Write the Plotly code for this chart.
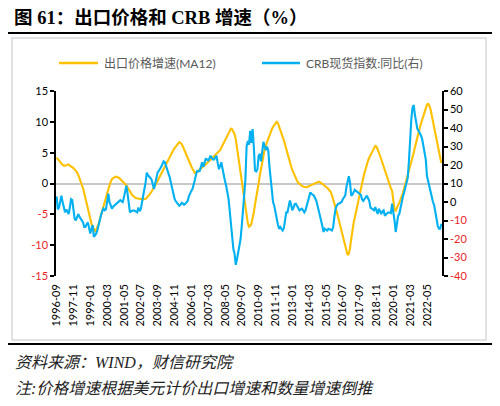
import plotly.graph_objects as go

# monthly axis, 1996-09 .. 2023-05
start_year, start_month, n_months = 1996, 9, 321
months = []
for k in range(n_months):
    m = start_month - 1 + k
    months.append(f"{start_year + m // 12}-{m % 12 + 1:02d}")

tick_labels = ["1996-09", "1997-11", "1999-01", "2000-03", "2001-05", "2002-07",
               "2003-09", "2004-11", "2006-01", "2007-03", "2008-05", "2009-07",
               "2010-09", "2011-11", "2013-01", "2014-03", "2015-05", "2016-07",
               "2017-09", "2018-11", "2020-01", "2021-03", "2022-05"]

# 出口价格增速(MA12), left axis
export_price = [
    4.2, 4.0, 3.7, 3.5, 3.2, 3.0, 2.9, 2.9, 3.0, 3.1, 3.1, 2.9,
    2.8, 2.6, 2.5, 2.3, 2.1, 1.8, 1.4, 0.9, 0.4, 0.0, -0.8, -1.6,
    -2.5, -3.4, -4.3, -5.1, -5.8, -6.5, -7.0, -7.4, -7.7, -7.5, -7.1, -6.5,
    -5.8, -5.0, -4.2, -3.6, -2.9, -2.3, -1.6, -0.9, -0.3, 0.3, 0.7, 0.9,
    1.0, 1.1, 1.1, 1.0, 0.9, 0.7, 0.5, 0.3, 0.1, 0.0, -0.3, -0.6,
    -1.0, -1.3, -1.6, -1.9, -2.1, -2.3, -2.4, -2.4, -2.5, -2.5, -2.5, -2.6,
    -2.6, -2.5, -2.5, -2.3, -2.1, -1.8, -1.6, -1.3, -1.0, -0.7, -0.4, 0.0,
    0.4, 0.8, 1.2, 1.5, 1.9, 2.2, 2.6, 3.0, 3.4, 3.8, 4.2, 4.6,
    5.0, 5.4, 5.7, 6.0, 6.3, 6.5, 6.7, 6.6, 6.4, 6.0, 5.5, 5.0,
    4.5, 4.0, 3.6, 3.2, 2.8, 2.4, 2.0, 1.7, 1.8, 1.9, 2.1, 2.3,
    2.4, 2.6, 2.8, 2.9, 3.1, 3.3, 3.5, 3.7, 3.9, 4.1, 4.3, 4.5,
    4.6, 4.8, 5.0, 5.2, 5.4, 5.8, 6.2, 6.6, 7.0, 7.4, 7.8, 8.2,
    8.6, 8.9, 8.8, 8.5, 8.0, 7.2, 5.8, 4.5, 3.0, 1.5, 0.0, -1.3,
    -2.5, -4.0, -5.5, -6.4, -7.0, -6.9, -6.5, -5.7, -4.7, -3.4, -2.0, -1.0,
    0.0, 1.3, 2.5, 3.8, 4.8, 5.5, 6.2, 6.8, 7.3, 7.8, 8.3, 8.8,
    9.2, 9.5, 9.8, 10.0, 9.8, 9.3, 8.8, 8.3, 7.8, 7.0, 6.3, 5.5,
    4.8, 4.0, 3.4, 2.8, 2.2, 1.7, 1.2, 0.8, 0.4, 0.1, -0.1, -0.3,
    -0.4, -0.5, -0.6, -0.6, -0.6, -0.5, -0.4, -0.4, -0.3, -0.2, 0.0, 0.1,
    0.2, 0.3, 0.3, 0.2, 0.1, 0.0, -0.2, -0.4, -0.5, -0.7, -0.9, -1.1,
    -1.4, -1.9, -2.5, -3.2, -3.9, -4.6, -5.4, -6.2, -7.0, -7.6, -8.4, -9.3,
    -10.0, -10.9, -11.6, -11.4, -10.5, -9.0, -7.3, -6.4, -5.5, -4.5, -3.5, -2.6,
    -1.7, -0.8, 0.1, 0.9, 1.7, 2.5, 3.2, 3.7, 4.2, 4.6, 5.0, 5.4,
    5.9, 6.1, 6.0, 5.6, 5.0, 4.5, 3.9, 3.2, 2.6, 2.0, 1.3, 0.7,
    0.2, -0.3, -0.8, -1.2, -2.8, -4.2, -4.4, -3.8, -3.5, -3.1, -2.7, -2.1,
    -1.5, -0.8, 0.0, 0.8, 1.5, 2.1, 2.7, 3.3, 4.2, 5.0, 5.9, 6.8,
    7.7, 8.4, 9.0, 9.7, 10.4, 11.1, 11.8, 12.4, 12.8, 12.9, 12.6, 12.0,
    11.1, 10.0, 9.0, 8.0, 7.0, 6.1, 5.2, 4.2, 3.3,
]

# CRB现货指数:同比, right axis
crb_yoy = [
    3.0, -4.0, -3.0, 0.5, 3.4, 0.0, -3.0, -5.6, -4.0, -5.5, -6.5, -3.0,
    1.5, 1.0, -5.0, -9.0, -10.0, -8.0, -6.5, -8.0, -9.0, -10.0, -11.0, -13.5,
    -13.5, -12.0, -11.0, -14.0, -17.0, -14.5, -12.5, -18.9, -18.0, -17.0, -15.0, -12.0,
    -9.5, -7.0, -5.0, -3.6, -4.5, -4.0, 0.0, 4.5, 0.0, -2.0, -3.6, -2.5,
    -2.0, -1.5, -1.0, -0.5, 0.2, 1.0, 0.5, 0.0, 2.5, 5.5, 8.8, 4.5,
    -1.0, -5.6, -5.0, -4.8, -4.5, -4.8, -5.2, -5.6, -3.0, -5.0, -4.0, 0.5,
    3.0, 7.0, 10.5, 15.9, 14.5, 14.0, 13.0, 12.0, 9.0, 7.0, 10.0, 14.0,
    16.0, 16.8, 17.7, 19.0, 20.5, 22.0, 21.5, 19.0, 17.0, 15.5, 13.5, 10.5,
    7.0, 4.0, 2.0, 0.5, -0.5, -1.5, -2.0, -1.5, -0.5, -0.8, -1.5, -1.0,
    -0.2, 0.6, 3.0, 5.0, 6.0, 7.0, 9.0, 12.0, 15.0, 16.8, 16.5, 16.8,
    19.0, 21.5, 19.0, 21.0, 23.3, 23.0, 22.5, 23.5, 25.0, 24.0, 23.0, 23.0,
    24.0, 25.0, 21.0, 17.7, 19.5, 21.5, 18.0, 14.0, 11.5, 8.8, 5.0, 1.7,
    -5.0, -12.0, -20.0, -25.4, -28.0, -34.0, -31.0, -27.0, -25.0, -20.0, -12.7, -4.0,
    3.4, 12.0, 30.0, 33.0, 31.0, 38.5, 32.0, 39.4, 30.0, 17.0, 16.5, 17.7,
    25.0, 26.0, 22.0, 29.0, 32.5, 30.0, 28.0, 30.0, 28.0, 19.3, 12.0, 3.0,
    0.0, -2.0, -6.0, -10.0, -12.0, -14.5, -13.5, -14.5, -15.4, -14.0, -8.0, -5.6,
    -5.6, -3.0, 0.8, -1.5, -4.5, -3.0, -1.2, -1.0, -2.0, -3.0, -4.5, -4.0,
    -3.6, -4.5, -5.6, -4.5, -2.0, 1.0, 3.4, 5.2, 4.5, 4.0, 3.4, 2.0,
    0.6, -2.0, -4.5, -7.0, -10.0, -13.0, -16.2, -14.5, -15.0, -15.4, -14.5, -15.0,
    -15.0, -15.4, -13.5, -8.0, -3.6, -2.0, -1.0, -0.8, -0.5, 0.0, 1.5, 2.6,
    3.4, 8.0, 12.0, 14.0, 10.5, 3.4, 4.0, 5.2, 6.6, 6.0, 5.5, 5.2,
    4.5, 3.9, 1.5, 0.6, 1.5, 2.5, 3.4, 2.0, 0.6, -3.0, -3.6, -4.0,
    -4.5, -2.7, -4.5, -6.5, -3.6, -5.0, -6.5, -5.0, -4.5, -7.4, -6.5, -6.0,
    -5.6, -5.8, -6.0, -0.9, -4.5, -10.0, -16.2, -10.8, -7.5, -6.5, -3.0, 0.6,
    3.0, 5.2, 7.5, 9.7, 13.0, 22.0, 36.0, 45.0, 51.0, 52.4, 47.0, 43.0,
    39.5, 38.5, 37.6, 36.0, 34.0, 30.4, 27.0, 23.0, 14.0, 11.0, 8.8, 5.0,
    1.7, 0.0, -1.8, -5.6, -10.8, -13.0, -14.5, -14.5, -11.8,
]

left_ticks = [15, 10, 5, 0, -5, -10, -15]
right_ticks = [60, 50, 40, 30, 20, 10, 0, -10, -20, -30, -40]

ORANGE = "#FFC000"
BLUE = "#00B0F0"
RED = "#E8251F"

# page body has an 8px margin, so the figure is drawn 8px in from the window corner
OFF = 8
W, H = 500 - OFF, 406 - OFF
L, R, T, B = 56, 442, 91, 276   # plot area, window pixels


def px(x):
    return (x - L) / (R - L)


def py(y):
    return (B - y) / (B - T)


def tick_text(v):
    if v < 0:
        return f"<span style='color:{RED}'>{v}</span>"
    return str(v)


fig = go.Figure()

fig.add_trace(go.Scatter(
    x=months, y=export_price, mode="lines", name="出口价格增速(MA12)",
    line=dict(color=ORANGE, width=2.1), yaxis="y"
))
fig.add_trace(go.Scatter(
    x=months, y=crb_yoy, mode="lines", name="CRB现货指数:同比(右)",
    line=dict(color=BLUE, width=2.1), yaxis="y2"
))

tickfont = dict(family="Lato, Liberation Sans, sans-serif", size=11, color="#000")

fig.update_layout(
    width=W, height=H,
    margin=dict(l=L - OFF, r=500 - R, t=T - OFF, b=406 - B),
    paper_bgcolor="white", plot_bgcolor="white",
    showlegend=False,
    xaxis=dict(
        type="category", categoryorder="array", categoryarray=months,
        range=[-0.5, n_months - 0.5],
        tickmode="array", tickvals=tick_labels, ticktext=tick_labels,
        tickangle=-90, tickfont=tickfont, ticks="", ticklabelstandoff=5,
        showgrid=False, showline=False, zeroline=False,
    ),
    yaxis=dict(
        range=[-15, 15], tickmode="array", tickvals=left_ticks,
        ticktext=[tick_text(v) for v in left_ticks],
        tickfont=tickfont, ticks="outside", ticklen=4, tickwidth=1.5,
        tickcolor="#000", showline=True, linecolor="#000", linewidth=1.5,
        showgrid=False, zeroline=True, zerolinecolor="#C8C8C8", zerolinewidth=2,
    ),
    yaxis2=dict(
        range=[-40, 60], overlaying="y", side="right", tickmode="array",
        tickvals=right_ticks, ticktext=[tick_text(v) for v in right_ticks],
        tickfont=tickfont, ticks="outside", ticklen=4, tickwidth=1.5,
        tickcolor="#000", showline=True, linecolor="#000", linewidth=1.5,
        showgrid=False, zeroline=False,
    ),
)

# frame, rules and legend samples
shapes = [
    dict(type="rect", xref="paper", yref="paper", x0=px(12), x1=px(486),
         y0=py(38), y1=py(340), line=dict(color="#D9D9D9", width=1.5), layer="below"),
    dict(type="line", xref="paper", yref="paper", x0=px(OFF), x1=px(500),
         y0=py(33), y1=py(33), line=dict(color="#000", width=2)),
    dict(type="line", xref="paper", yref="paper", x0=px(OFF), x1=px(500),
         y0=py(344), y1=py(344), line=dict(color="#000", width=2)),
    dict(type="line", xref="paper", yref="paper", x0=px(59), x1=px(98),
         y0=py(63), y1=py(63), line=dict(color=ORANGE, width=2.5)),
    dict(type="line", xref="paper", yref="paper", x0=px(262), x1=px(300),
         y0=py(63), y1=py(63), line=dict(color=BLUE, width=2.5)),
]
fig.update_layout(shapes=shapes)

legend_font = dict(family="Lato, Noto Sans CJK SC, sans-serif", size=12, color="#595959")
notes_font = dict(family="Liberation Serif, Noto Sans CJK SC, serif", size=16, color="#222")

annotations = [
    dict(text="<b>图 61：出口价格和 CRB 增速（%）</b>", x=px(12), y=py(18),
         font=dict(family="Liberation Serif, Noto Sans CJK SC, serif", size=18.5, color="#000")),
    dict(text="出口价格增速(MA12)", x=px(102), y=py(63), font=legend_font),
    dict(text="CRB现货指数:同比(右)", x=px(304), y=py(63), font=legend_font),
    dict(text="<i>资料来源：WIND，财信研究院</i>", x=px(13), y=py(362), font=notes_font),
    dict(text="<i>注:价格增速根据美元计价出口增速和数量增速倒推</i>", x=px(13), y=py(388),
         font=notes_font),
]
for a in annotations:
    fig.add_annotation(xref="paper", yref="paper", xanchor="left", yanchor="middle",
                       showarrow=False, **a)

fig.write_html("out.html")
